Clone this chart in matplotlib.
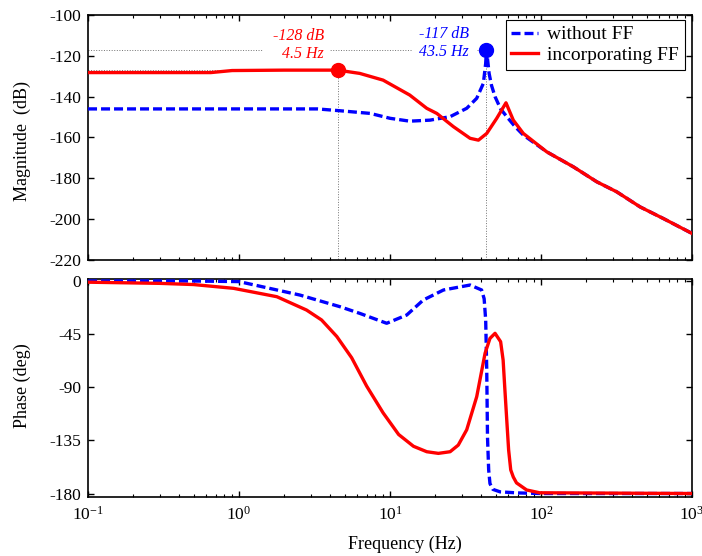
import matplotlib
matplotlib.use("Agg")
import matplotlib.pyplot as plt
import numpy as np

# ---------------- data ----------------
freq_mag_noff = [0.1, 0.5, 1, 2, 3.3, 4.67, 7.4, 10, 13.5, 18.4, 25, 32.2, 37.5,
                 41.5, 43, 43.5, 44.3, 45.3, 47, 49.6, 54, 59.3, 67, 76.3, 109,
                 164, 234, 317, 453, 646, 1000]
mag_noff = [-146, -146, -146, -146, -146, -146.9, -148.2, -150.6, -152, -151.5,
            -149.8, -145.7, -140.8, -133.5, -123.7, -117, -122, -128.6, -134.5,
            -140, -146, -149.8, -154.5, -158.8, -167, -174.4, -181.7, -186.6,
            -194, -199.7, -207]

freq_mag_ff = [0.1, 0.4, 0.65, 0.9, 2, 4.5, 6.3, 9, 13.5, 17.5, 20.4, 26.3, 33.9,
               38.5, 43.7, 50.9, 58.6, 65.5, 76.3, 109, 164, 234, 317, 453, 646,
               1000]
mag_ff = [-128.2, -128.2, -128.2, -127.2, -127, -127, -128.6, -131.9, -139.2,
          -145.7, -148.2, -154.7, -160.4, -161.3, -158, -150.6, -143, -151.5,
          -158, -167, -174.4, -181.7, -186.6, -194, -199.7, -207]

freq_ph_noff = [0.1, 0.5, 1, 2.53, 4.67, 6.3, 9.5, 12.9, 16.6, 22.6, 33.9, 40.4,
                42, 43, 43.7, 44.2, 45, 45.9, 48, 53.6, 70, 100, 1000]
ph_noff = [0, 0, -0.5, -11.9, -21.8, -27.4, -35.8, -28.8, -16.1, -7.6, -3.4,
           -7.6, -15, -33, -75.4, -132, -160, -171.6, -176.5, -178.6, -179.5,
           -180, -180]

freq_ph_ff = [0.1, 0.3, 0.5, 0.92, 1.78, 2.8, 3.52, 4.44, 5.57, 7.0, 9.0, 11.4,
              14.3, 17.5, 20.9, 25, 28.3, 32.2, 37.5, 42.6, 45.9, 49.6, 54, 56.1,
              57.5, 59.3, 61, 63, 65.5, 68.8, 80.3, 98, 1000]
ph_ff = [-1, -2, -3, -6.2, -13.3, -24.6, -33, -47, -65, -89, -111.7, -130, -140,
         -144.6, -146, -144.6, -139, -126, -98, -61.2, -48.6, -44.3, -51.4, -67,
         -90, -117.8, -143, -160, -166, -171, -177, -179.4, -180]

# annotated points: (frequency, magnitude)
peak_ff = (4.5, -127)
peak_noff = (43.5, -117)
label_ff = "-128 dB\n4.5 Hz"
label_noff = "-117 dB\n43.5 Hz"

legend_labels = ["without FF", "incorporating FF"]
mag_ticks = [-100, -120, -140, -160, -180, -200, -220]
ph_ticks = [0, -45, -90, -135, -180]

# ---------------- style ----------------
plt.rcParams['font.family'] = ['Liberation Serif', 'DejaVu Serif']
plt.rcParams['mathtext.fontset'] = 'custom'
plt.rcParams['mathtext.rm'] = 'Liberation Serif'
plt.rcParams['mathtext.it'] = 'Liberation Serif:italic'
plt.rcParams['font.size'] = 12.5
plt.rcParams['axes.unicode_minus'] = False

RED = '#ff0000'
BLUE = '#0000ff'
LW = 2.4
DASH = (2.7, 1.2)

fig = plt.figure(figsize=(7.02, 5.56), dpi=100)
ax1 = fig.add_axes([0.1254, 0.5324, 0.8604, 0.4406])
ax2 = fig.add_axes([0.1254, 0.1056, 0.8604, 0.3926])

# magnitude
ax1.plot(freq_mag_noff, mag_noff, color=BLUE, lw=LW, dashes=DASH, label=legend_labels[0], zorder=3)
ax1.plot(freq_mag_ff, mag_ff, color=RED, lw=LW, label=legend_labels[1], zorder=3)

xmin, xmax = 0.1, 1000
ymin_mag, ymax_mag = -220, -100
for (pf, pm), col in [(peak_ff, RED), (peak_noff, BLUE)]:
    ax1.plot([xmin, pf], [pm, pm], color='0.45', lw=0.7, ls=':', zorder=1)
    ax1.plot([pf, pf], [pm, ymin_mag], color='0.45', lw=0.7, ls=':', zorder=1)
    ax1.plot([pf], [pm], 'o', color=col, ms=10, zorder=4)

ax1.text(peak_ff[0] * 0.813, -114.7, " " + label_ff, color=RED, style='italic',
         fontsize=11.5, ha='right', va='center', multialignment='right',
         linespacing=1.15, zorder=2,
         bbox=dict(facecolor='white', edgecolor='none', pad=4))
ax1.text(peak_noff[0] * 0.766, -113.8, label_noff, color=BLUE, style='italic',
         fontsize=11.5, ha='right', va='center', multialignment='right',
         linespacing=1.15, zorder=2,
         bbox=dict(facecolor='white', edgecolor='none', pad=5))

ax1.set_xscale('log')
ax1.set_xlim(xmin, xmax)
ax1.set_ylim(ymin_mag, ymax_mag)
ax1.set_yticks(mag_ticks)
ax1.tick_params(axis='x', which='both', labelbottom=False)

leg = ax1.legend(loc='upper right', bbox_to_anchor=(0.9884, 0.9796),
                 borderaxespad=0, fancybox=False, edgecolor='black',
                 framealpha=1, fontsize=14, handlelength=1.35,
                 handletextpad=0.5, labelspacing=0.15, borderpad=0.3)
leg.get_frame().set_linewidth(0.8)

# phase
ax2.plot(freq_ph_noff, ph_noff, color=BLUE, lw=LW, dashes=DASH, zorder=3)
ax2.plot(freq_ph_ff, ph_ff, color=RED, lw=LW, zorder=3)
ax2.set_xscale('log')
ax2.set_xlim(xmin, xmax)
ax2.set_ylim(-183.2, 1.7)
ax2.set_yticks(ph_ticks)
ax2.set_xticks([0.1, 1, 10, 100, 1000])
ax2.set_xticklabels([r'$10^{-1}$', r'$10^{0}$', r'$10^{1}$', r'$10^{2}$', r'$10^{3}$'])

for ax in (ax1, ax2):
    for sp in ax.spines.values():
        sp.set_linewidth(1.2)
    ax.tick_params(which='both', direction='in', top=True, right=True,
                   colors='black', labelsize=12.5)
    ax.tick_params(which='major', length=4, width=1, pad=5)
    ax.tick_params(which='minor', length=2.5, width=0.8)
    ax.xaxis.set_minor_locator(matplotlib.ticker.LogLocator(base=10, subs=np.arange(2, 10)))
    ax.xaxis.set_minor_formatter(matplotlib.ticker.NullFormatter())
ax2.tick_params(axis='x', which='major', pad=6)

fig.text(0.0313, 0.7464, "Magnitude  (dB)", rotation=90, ha='center', va='center', fontsize=13)
fig.text(0.0313, 0.3058, "Phase (deg)", rotation=90, ha='center', va='center', fontsize=13)
fig.text(0.577, 0.0216, "Frequency (Hz)", ha='center', va='center', fontsize=13)

fig.savefig("out.png", dpi=100)
